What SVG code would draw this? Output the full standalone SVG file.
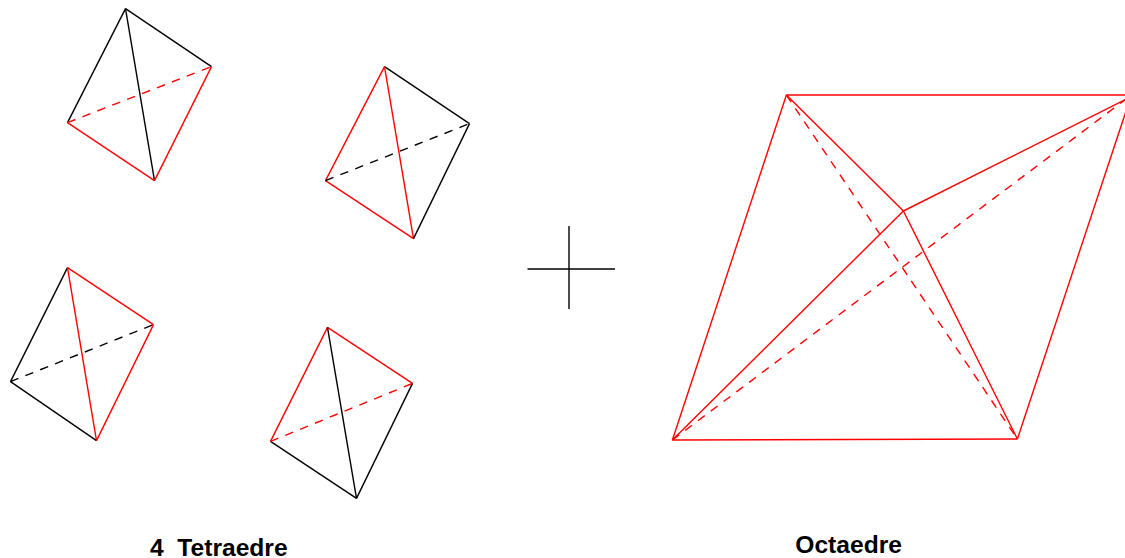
<svg xmlns="http://www.w3.org/2000/svg" width="1125" height="558" viewBox="0 0 1125 558">
<style>
line{stroke-width:1.4;fill:none}
.k{stroke:#000}
.r{stroke:#f00}
.d{stroke-dasharray:8.5 7.5}
text{font-family:"Liberation Sans",Arial,sans-serif;font-weight:bold;font-size:24.6px;fill:#000;white-space:pre}
</style>
<rect width="1125" height="558" fill="#fff"/>
<g id="tetra1" transform="translate(-0.5,-0.4)">
<line class="k" x1="126" y1="9" x2="68" y2="123"/>
<line class="k" x1="126" y1="9" x2="212" y2="67"/>
<line class="k" x1="126" y1="9" x2="155" y2="181"/>
<line class="r" x1="68" y1="123" x2="155" y2="181"/>
<line class="r" x1="155" y1="181" x2="212" y2="67"/>
<line class="r d" x1="68" y1="123" x2="212" y2="67"/>
</g>
<g id="tetra2" transform="translate(-0.5,-0.4)">
<line class="r" x1="385" y1="67" x2="326" y2="181"/>
<line class="k" x1="385" y1="67" x2="470" y2="124"/>
<line class="r" x1="385" y1="67" x2="414" y2="239"/>
<line class="r" x1="326" y1="181" x2="414" y2="239"/>
<line class="k" x1="414" y1="239" x2="470" y2="124"/>
<line class="k d" x1="326" y1="181" x2="470" y2="124"/>
</g>
<g id="tetra3" transform="translate(-0.5,-0.4)">
<line class="k" x1="68" y1="268" x2="11" y2="382"/>
<line class="r" x1="68" y1="268" x2="154" y2="325"/>
<line class="r" x1="68" y1="268" x2="97" y2="441"/>
<line class="k" x1="11" y1="382" x2="97" y2="441"/>
<line class="r" x1="97" y1="441" x2="154" y2="325"/>
<line class="k d" x1="11" y1="382" x2="154" y2="325"/>
</g>
<g id="tetra4" transform="translate(-0.5,0.4)">
<line class="r" x1="328" y1="327" x2="271" y2="441"/>
<line class="r" x1="328" y1="327" x2="413" y2="383"/>
<line class="k" x1="328" y1="327" x2="357" y2="498"/>
<line class="k" x1="271" y1="441" x2="357" y2="498"/>
<line class="k" x1="357" y1="498" x2="413" y2="383"/>
<line class="r d" x1="271" y1="441" x2="413" y2="383"/>
</g>
<g id="plus">
<line class="k" x1="527.5" y1="269" x2="615" y2="269"/>
<line class="k" x1="569" y1="226" x2="569" y2="309"/>
</g>
<g id="octa" transform="translate(-0.6,0)">
<line class="r" x1="787" y1="95" x2="1126" y2="95"/>
<line class="r" x1="787" y1="95" x2="673" y2="440"/>
<line class="r" x1="787" y1="95" x2="904" y2="211"/>
<line class="r" x1="904" y1="211" x2="1126" y2="99.5"/>
<line class="r" x1="904" y1="211" x2="673" y2="440"/>
<line class="r" x1="904" y1="211" x2="1018" y2="439"/>
<line class="r" x1="673" y1="440" x2="1018" y2="439"/>
<line class="r" x1="1018" y1="439" x2="1126" y2="113"/>
<line class="r d" x1="787" y1="95" x2="1018" y2="439"/>
<line class="r d" x1="673" y1="440" x2="1126" y2="99.5"/>
</g>
<text id="label1" x="150" y="556">4  Tetraedre</text>
<text id="label2" x="795.3" y="553">Octaedre</text>
</svg>
